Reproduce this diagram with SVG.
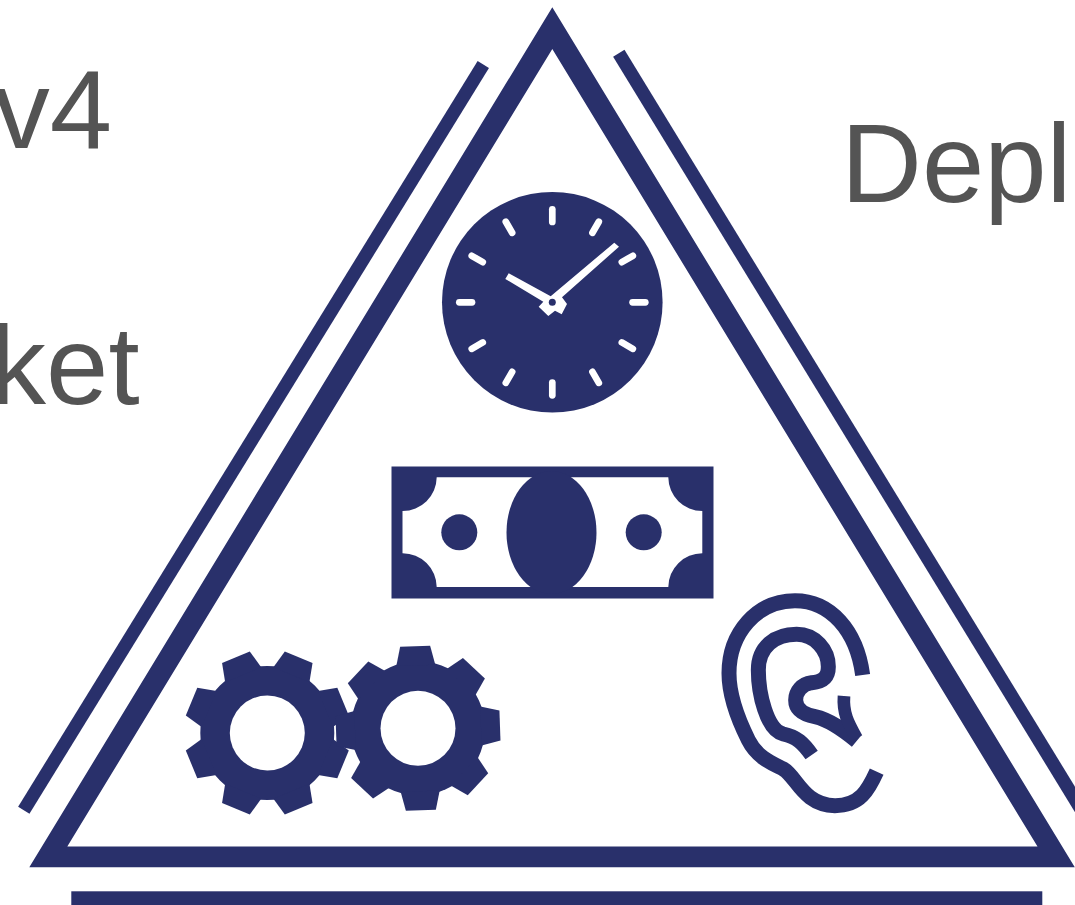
<svg xmlns="http://www.w3.org/2000/svg" width="1075" height="905" viewBox="0 0 1075 905">
<style>
.n{fill:#29306b}
.l{fill:none;stroke:#29306b;stroke-width:13.3}
.t{font-family:"Liberation Sans",Arial,sans-serif;font-size:112px;fill:#545454}
.tick{stroke:#fff;stroke-width:6.7;stroke-linecap:round}
.ear{fill:none;stroke:#29306b;stroke-width:45}
</style>
<defs>
<g id="gear">
<circle class="n" r="67"/>
<polygon id="tooth" class="n" points="-19.5,-63 -15,-82 15,-82 19.5,-63"/>
<use href="#tooth" transform="rotate(45)"/><use href="#tooth" transform="rotate(90)"/><use href="#tooth" transform="rotate(135)"/><use href="#tooth" transform="rotate(180)"/><use href="#tooth" transform="rotate(225)"/><use href="#tooth" transform="rotate(270)"/><use href="#tooth" transform="rotate(315)"/>
</g>
</defs>
<rect width="1075" height="905" fill="#fff"/>
<g id="labels">
<text class="t" x="112" y="148" text-anchor="end">v4</text>
<text class="t" x="139.5" y="404" text-anchor="end">ket</text>
<text class="t" x="841" y="201.5">Depl</text>
</g>
<g id="triangle">
<path class="n" fill-rule="evenodd" d="M552.3 7.3L1074.8 867.3H29.3ZM552.3 49L1037.5 846.5H67.3Z"/>
<path class="l" d="M483.3 64.5L23.8 810.2"/>
<path class="l" d="M618.8 53.3L1090 824"/>
<rect class="n" x="71.3" y="891.3" width="971" height="13.7"/>
</g>
<g id="clock">
<circle class="n" cx="552.3" cy="302.3" r="110.3"/>
<g transform="translate(552.3 302.3)">
<path id="tk" class="tick" d="M0-93V-80.3"/>
<use href="#tk" transform="rotate(30)"/><use href="#tk" transform="rotate(60)"/><use href="#tk" transform="rotate(90)"/><use href="#tk" transform="rotate(120)"/><use href="#tk" transform="rotate(150)"/><use href="#tk" transform="rotate(180)"/><use href="#tk" transform="rotate(210)"/><use href="#tk" transform="rotate(240)"/><use href="#tk" transform="rotate(270)"/><use href="#tk" transform="rotate(300)"/><use href="#tk" transform="rotate(330)"/>
</g>
<polygon fill="#fff" points="508.7,273.3 550.7,296.2 614.3,242.7 619,246.7 562,297.3 567,304 561.7,314.3 555,310.7 548.3,316 538.7,306.7 543.3,301.7 505.3,279"/>
<circle class="n" cx="552.3" cy="302.3" r="3.5"/>
</g>
<g id="bill">
<rect class="n" x="391.5" y="466.5" width="322" height="132"/>
<path fill="#fff" d="M436.7 477.3H668.3A34 34 0 0 0 702.3 511V553.3A34 34 0 0 0 668.3 587H436.7A34 34 0 0 0 402.5 553.3V511A34 34 0 0 0 436.7 477.3Z"/>
<ellipse class="n" cx="551.5" cy="532.5" rx="45" ry="61.5"/>
<circle class="n" cx="459.3" cy="532.3" r="18"/><circle class="n" cx="643.7" cy="532.3" r="18"/>
</g>
<g id="gears">
<use href="#gear" transform="translate(267.3 733) rotate(22.5)"/>
<use href="#gear" transform="translate(418 728.3) rotate(-2)"/>
<circle cx="267.3" cy="733" r="37.5" fill="#fff"/>
<circle cx="418" cy="728.3" r="37.5" fill="#fff"/>
</g>
<g id="ear" transform="translate(700 580) scale(.33333)">
<path class="ear" d="M488 285C470 150 390 62 285 62C170 62 87 160 87 280C87 350 120 430 145 480C175 540 230 555 250 567C290 590 310 675 405 677C480 677 505 630 530 575"/>
<path class="ear" d="M335 525C310 490 290 470 250 462C200 450 175 340 175 270C175 200 225 163 290 163C345 163 385 210 385 260C385 295 365 305 335 308C305 312 287 335 287 360C287 395 320 405 345 410C390 420 430 450 470 483"/>
<path class="ear" style="stroke-width:38" d="M432 348C428 400 445 430 470 475"/>
</g>
</svg>
